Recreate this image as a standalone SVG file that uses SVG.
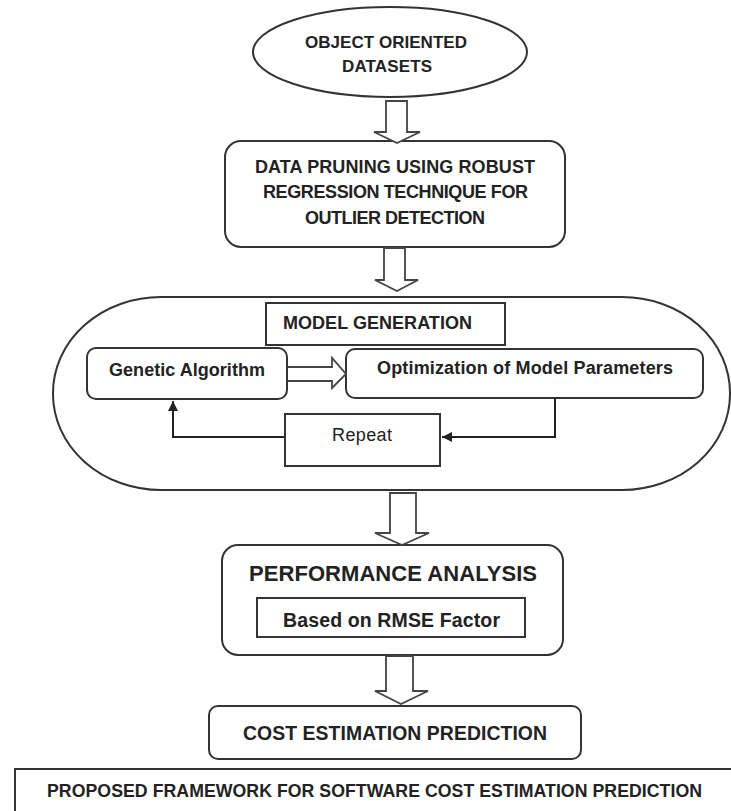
<svg xmlns="http://www.w3.org/2000/svg" width="731" height="811" viewBox="0 0 731 811">
<defs>
<style>
.s{fill:#fff;stroke:#333;stroke-width:2}
.ba{fill:#fff;stroke:#444;stroke-width:1.8;stroke-linejoin:miter}
.t{font-family:"Liberation Sans",Arial,sans-serif;font-weight:bold;fill:#222}
.r{font-family:"Liberation Sans",Arial,sans-serif;font-weight:normal;fill:#222}
.c{fill:none;stroke:#222;stroke-width:2}
</style>
<marker id="ah" viewBox="0 0 10 10" refX="10" refY="5" markerWidth="5" markerHeight="5" orient="auto" markerUnits="strokeWidth">
<path d="M0,0 L10,5 L0,10 Z" fill="#222"/>
</marker>
</defs>
<rect width="731" height="811" fill="#fff"/>

<g id="datasets">
<ellipse class="s" cx="390" cy="52" rx="137" ry="45"/>
<text class="t" x="305" y="48" font-size="17" textLength="162">OBJECT ORIENTED</text>
<text class="t" x="342" y="72" font-size="17" textLength="90">DATASETS</text>
</g>

<g id="pruning">
<rect class="s" x="225" y="141" width="340" height="106" rx="16"/>
<text class="t" x="255" y="173" font-size="18" textLength="280">DATA PRUNING USING ROBUST</text>
<text class="t" x="263" y="198" font-size="18" textLength="265">REGRESSION TECHNIQUE FOR</text>
<text class="t" x="305" y="224" font-size="18" textLength="180">OUTLIER DETECTION</text>
</g>

<g id="model-generation">
<rect class="s" x="53" y="297" width="677" height="193" rx="108" ry="96" stroke-width="1.6"/>
<rect class="s" x="266" y="303" width="239" height="42"/>
<text class="t" x="283" y="329" font-size="18" textLength="189">MODEL GENERATION</text>
</g>

<g id="genetic">
<rect class="s" x="87" y="348" width="200" height="51" rx="9"/>
<text class="t" x="109" y="376" font-size="18" textLength="156">Genetic Algorithm</text>
</g>

<g id="optimization">
<rect class="s" x="346" y="349" width="357" height="49" rx="9"/>
<text class="t" x="377" y="374" font-size="18" textLength="296">Optimization of Model Parameters</text>
</g>

<g id="repeat">
<rect class="s" x="285" y="414" width="155" height="52"/>
<text class="r" x="332" y="441" font-size="18" textLength="60">Repeat</text>
</g>

<g id="performance">
<rect class="s" x="222" y="545" width="341" height="110" rx="16"/>
<text class="t" x="249" y="581" font-size="22" textLength="288">PERFORMANCE ANALYSIS</text>
<rect class="s" x="257" y="598" width="268" height="39"/>
<text class="t" x="283" y="627" font-size="19.5" textLength="217">Based on RMSE Factor</text>
</g>

<g id="cost">
<rect class="s" x="209" y="706" width="372" height="53" rx="9"/>
<text class="t" x="243" y="740" font-size="19.4" textLength="304">COST ESTIMATION PREDICTION</text>
</g>

<g id="caption">
<rect class="s" x="15" y="769" width="730" height="60"/>
<text class="t" x="47" y="797" font-size="17.7" textLength="655">PROPOSED FRAMEWORK FOR SOFTWARE COST ESTIMATION PREDICTION</text>
</g>

<g id="connectors">
<path class="ba" d="M386,101 L407,101 L407,132 L420,132 L397,143 L374,132 L386,132 Z"/>
<path class="ba" d="M384,248 L405,248 L405,280 L418,280 L397,291 L375,280 L384,280 Z"/>
<path class="ba" d="M390,493 L416,493 L416,533 L429,533 L402,545 L375,533 L390,533 Z"/>
<path class="ba" d="M386,656 L413,656 L413,691 L428,691 L401,704 L375,691 L386,691 Z"/>
<path class="ba" d="M288,367 L332,367 L332,358 L346,374 L332,388 L332,381 L288,381"/>
<polyline class="c" points="555,398 555,437 442,437" marker-end="url(#ah)"/>
<polyline class="c" points="285,437 173,437 173,401" marker-end="url(#ah)"/>
</g>
</svg>
